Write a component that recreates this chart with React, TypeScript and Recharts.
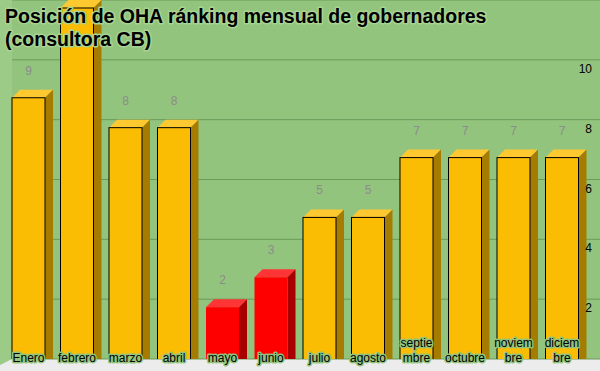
import React from "react";
import { BarChart, Bar, XAxis, YAxis, CartesianGrid, LabelList } from "recharts";

// meses y posición en el ránking
const MONTH_LABELS = ["Enero", "febrero", "marzo", "abril", "mayo", "junio", "julio", "agosto", "septie\nmbre", "octubre", "noviem\nbre", "diciem\nbre"];
const POSITIONS = [9, 12, 8, 8, 2, 3, 5, 5, 7, 7, 7, 7];
const BAR_KIND = ["gold", "gold", "gold", "gold", "red", "red", "gold", "gold", "gold", "gold", "gold", "gold"];
const Y_TICKS = [2, 4, 6, 8, 10];

const TITLE_LINES = ["Posición de OHA ránking mensual de gobernadores", "(consultora CB)"];

const BG = "#93c47d";
const DEPTH = 8;

const PALETTE: Record<string, { front: string; top: string; side: string; stroke: string }> = {
    gold: { front: "#fbbc04", top: "#fdc830", side: "#a67c00", stroke: "#000" },
    red: { front: "#ff0000", top: "#ff3535", side: "#a80000", stroke: "none" },
};

const data = MONTH_LABELS.map((label, i) => ({
    label,
    value: POSITIONS[i],
    kind: BAR_KIND[i],
}));

// 3D bar: back face is the recharts rect, front face shifted down/left
const Bar3D = (props: any) => {
    const { x, y, width, height, payload } = props;
    const c = PALETTE[payload.kind];
    const fx = x - DEPTH;
    const fy = y + DEPTH;
    return (
        <g>
            <polygon
                points={`${fx},${fy} ${x},${y} ${x + width},${y} ${fx + width},${fy}`}
                fill={c.top}
            />
            <polygon
                points={`${fx + width},${fy} ${x + width},${y} ${x + width},${y + height} ${fx + width},${fy + height}`}
                fill={c.side}
            />
            <rect x={fx} y={fy} width={width} height={height} fill={c.front} stroke={c.stroke} strokeWidth={1} />
        </g>
    );
};

const ValueLabel = (props: any) => {
    const { x, y, width, value } = props;
    // the label of a bar that runs off the top is not drawn (as in the original)
    if (y - 15 < 12) return null;
    return (
        <text x={x - DEPTH + width / 2} y={y - 15} textAnchor="middle" fontSize={12} fill="#8c8c8c" fontFamily="Liberation Sans, Arial, sans-serif">
            {value}
        </text>
    );
};

const MonthLabel = (props: any) => {
    const { x, width, value } = props;
    const lines = String(value).split("\n");
    const cx = x - DEPTH + width / 2;
    return (
        <text
            textAnchor="middle"
            fontSize={12}
            fill="#000"
            stroke={BG}
            strokeWidth={3}
            strokeLinejoin="round"
            paintOrder="stroke"
            fontFamily="Liberation Sans, Arial, sans-serif"
        >
            {lines.map((l, i) => (
                <tspan key={i} x={cx} y={362 - (lines.length - 1 - i) * 15}>
                    {l}
                </tspan>
            ))}
        </text>
    );
};

const RightTick = (props: any) => {
    const { y, payload } = props;
    return (
        <text x={592} y={y + 13} textAnchor="end" fontSize={12} fill="#000" fontFamily="Liberation Sans, Arial, sans-serif">
            {payload.value}
        </text>
    );
};

export default function App() {
    return (
        <div style={{ position: "absolute", left: 0, top: 0, width: 600, height: 371, background: BG, overflow: "hidden" }}>
            <svg width={600} height={371} style={{ position: "absolute", left: 0, top: 0 }}>
                <polygon points="0,0 12,0 12,359 0,365" fill="#9ccb88" />
                <polygon points="12,359 600,359 600,371 0,371 0,365" fill="#ececec" />
            </svg>
            <div style={{ position: "absolute", left: 0, top: 0 }}>
                <BarChart width={600} height={371} data={data} margin={{ top: 0, right: 0, bottom: 12, left: 12 }} barSize={33}>
                    <CartesianGrid vertical={false} stroke="#6b9a5b" strokeWidth={1} />
                    <XAxis dataKey="label" hide padding={{ left: 0, right: 6 }} />
                    <YAxis
                        orientation="right"
                        domain={[0, 12]}
                        ticks={Y_TICKS}
                        mirror
                        axisLine={false}
                        tickLine={false}
                        tick={<RightTick />}
                        allowDataOverflow
                    />
                    <Bar dataKey="value" shape={<Bar3D />} isAnimationActive={false}>
                        <LabelList dataKey="value" content={<ValueLabel />} />
                        <LabelList dataKey="label" content={<MonthLabel />} />
                    </Bar>
                </BarChart>
            </div>
            <svg width={600} height={60} style={{ position: "absolute", left: 0, top: 0 }}>
                <text
                    fontSize={19.5}
                    fontWeight="bold"
                    fill="#000"
                    stroke="#a8d493"
                    strokeWidth={3}
                    strokeLinejoin="round"
                    paintOrder="stroke"
                    fontFamily="Liberation Sans, Arial, sans-serif"
                >
                    {TITLE_LINES.map((l, i) => (
                        <tspan key={i} x={5} y={23 + i * 23}>
                            {l}
                        </tspan>
                    ))}
                </text>
            </svg>
        </div>
    );
}
